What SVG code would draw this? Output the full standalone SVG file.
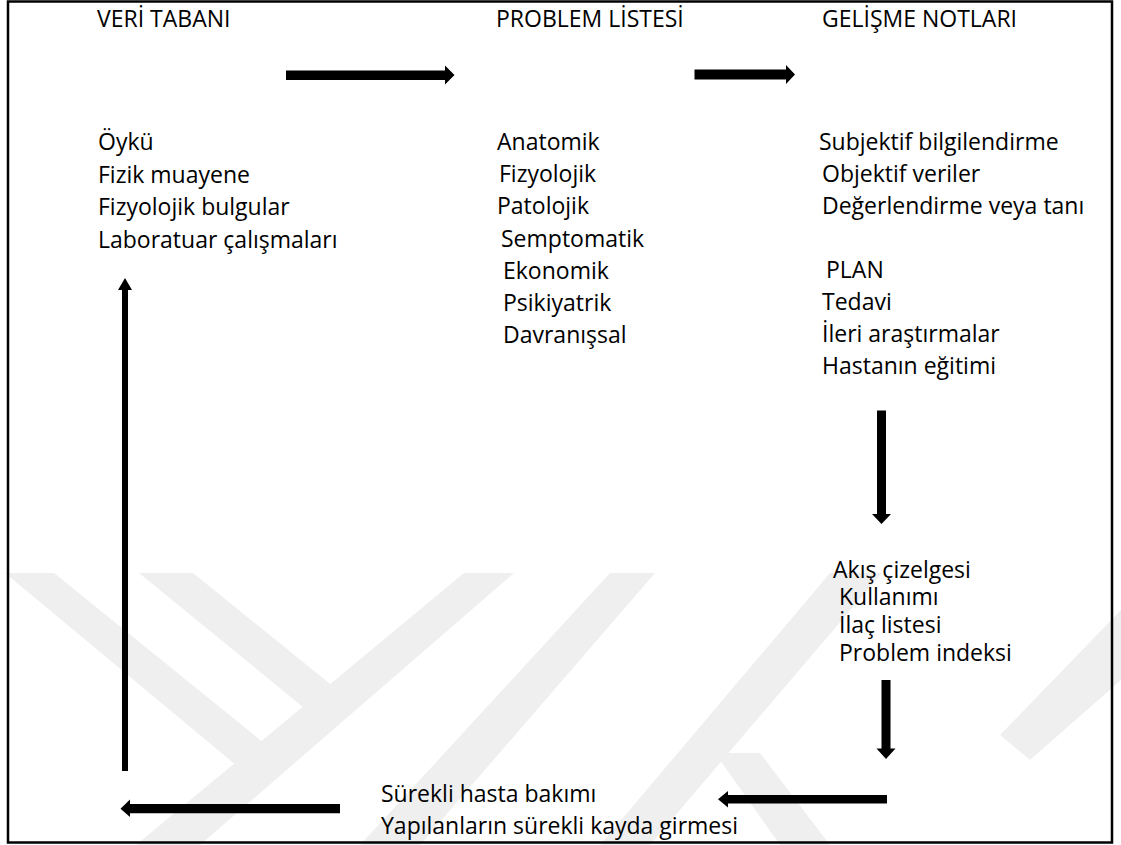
<svg xmlns="http://www.w3.org/2000/svg" width="1121" height="845" viewBox="0 0 1121 845">
<style>
  .t { font-family: "Open Sans", "Noto Sans", "Liberation Sans", sans-serif; font-size: 23px; fill: #000; }
  .wm { fill: #efefef; }
  .ar { fill: #000; }
</style>
<rect x="0" y="0" width="1121" height="845" fill="#fff"/>
<g id="watermark">
  <polygon class="wm" points="5,573 54,573 285,760 260,785"/>
  <polygon class="wm" points="139,573 193,573 350,700 325,725"/>
  <polygon class="wm" points="464,573 514,573 200,845 136,845"/>
  <polygon class="wm" points="610,573 655,573 420,845 360,845"/>
  <polygon class="wm" points="830,573 882,573 650,845 600,845"/>
  <polygon class="wm" points="715,753 760,753 830,845 780,845"/>
  <polygon class="wm" points="1121,610 1121,680 1030,760 1000,735"/>
</g>
<rect x="8" y="1.5" width="1104" height="841" fill="none" stroke="#000" stroke-width="2.5"/>
<g id="veri-tabani">
  <text class="t" x="97" y="27">VERİ TABANI</text>
  <text class="t" x="98" y="150">Öykü</text>
  <text class="t" x="98" y="182.5">Fizik muayene</text>
  <text class="t" x="98" y="215">Fizyolojik bulgular</text>
  <text class="t" x="98" y="247.5">Laboratuar çalışmaları</text>
</g>
<g id="problem-listesi">
  <text class="t" x="496" y="27">PROBLEM LİSTESİ</text>
  <text class="t" x="497" y="150">Anatomik</text>
  <text class="t" x="499" y="182">Fizyolojik</text>
  <text class="t" x="497" y="214">Patolojik</text>
  <text class="t" x="501" y="246.5">Semptomatik</text>
  <text class="t" x="503" y="278.5">Ekonomik</text>
  <text class="t" x="503" y="311">Psikiyatrik</text>
  <text class="t" x="503" y="343">Davranışsal</text>
</g>
<g id="gelisme-notlari">
  <text class="t" x="822" y="27">GELİŞME NOTLARI</text>
  <text class="t" x="819" y="150">Subjektif bilgilendirme</text>
  <text class="t" x="822" y="182">Objektif veriler</text>
  <text class="t" x="822" y="214">Değerlendirme veya tanı</text>
  <text class="t" x="826" y="278">PLAN</text>
  <text class="t" x="822" y="310">Tedavi</text>
  <text class="t" x="822" y="342">İleri araştırmalar</text>
  <text class="t" x="822" y="374">Hastanın eğitimi</text>
</g>
<g id="akis-cizelgesi">
  <text class="t" x="833" y="578">Akış çizelgesi</text>
  <text class="t" x="839" y="605">Kullanımı</text>
  <text class="t" x="839" y="633">İlaç listesi</text>
  <text class="t" x="839" y="661">Problem indeksi</text>
</g>
<g id="surekli-bakim">
  <text class="t" x="381" y="802">Sürekli hasta bakımı</text>
  <text class="t" x="381" y="834">Yapılanların sürekli kayda girmesi</text>
</g>
<g id="connectors">
  <polygon class="ar" points="286,70.5 445,70.5 445,65.5 454.5,75 445,84.5 445,80 286,80"/>
  <polygon class="ar" points="694.5,69.5 786,69.5 786,65 795,74.5 786,84 786,79.5 694.5,79.5"/>
  <polygon class="ar" points="877,410.5 886,410.5 886,514 891,514 881.5,524 872,514 877,514"/>
  <polygon class="ar" points="881.5,680 890.5,680 890.5,748.5 895.5,748.5 886,759 876.5,748.5 881.5,748.5"/>
  <polygon class="ar" points="887,795 887,803.5 728,803.5 728,807.5 718,799.2 728,791 728,795"/>
  <polygon class="ar" points="340,804 340,813.3 130,813.3 130,817 120.5,808.7 130,799.5 130,804"/>
  <polygon class="ar" points="122,771 122,290 118,290 125,278 132,290 128,290 128,771"/>
</g>
</svg>
